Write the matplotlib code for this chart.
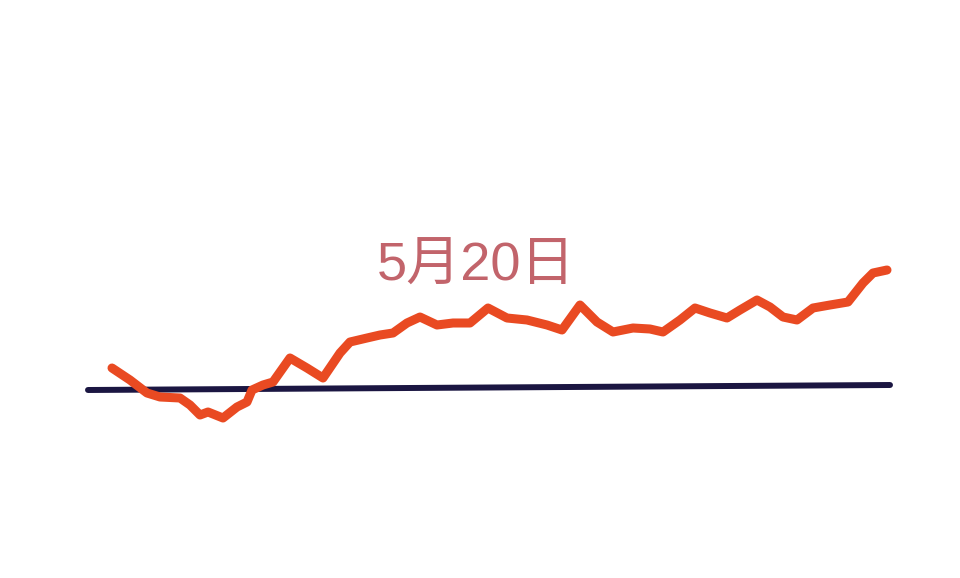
import matplotlib.pyplot as plt

plt.rcParams['font.family'] = ['Liberation Sans', 'Noto Sans CJK SC', 'DejaVu Sans']

# orange series (x position, level)
trend_x = [112, 130, 147, 160, 180, 190, 200, 208, 223, 237, 247, 252, 263, 273,
           290, 307, 323, 340, 350, 367, 380, 393, 407, 420, 437, 453, 470, 488,
           507, 527, 547, 562, 580, 597, 613, 633, 650, 663, 680, 695, 710, 727,
           740, 757, 770, 783, 797, 813, 830, 848, 863, 873, 887]
trend_y = [210, 198, 185, 181, 180, 173, 163, 166, 160, 171, 176, 188, 193, 196,
           220, 210, 200, 225, 236, 240, 243, 245, 255, 261, 253, 255, 255, 270,
           260, 258, 253, 248, 273, 256, 246, 250, 249, 246, 258, 270, 265, 260,
           268, 278, 271, 261, 258, 270, 273, 276, 295, 305, 308]

# navy baseline
base_x = [88, 890]
base_y = [188, 193]

label = "5月20日"

fig = plt.figure(figsize=(9.6, 5.78), dpi=100)
ax = fig.add_axes([0, 0, 1, 1])
ax.set_xlim(0, 960)
ax.set_ylim(0, 578)
ax.axis('off')

ax.plot(base_x, base_y, color='#1b1642', linewidth=4.3, solid_capstyle='round')
ax.plot(trend_x, trend_y, color='#e94a22', linewidth=6.5,
        solid_capstyle='round', solid_joinstyle='round')

ax.text(476, 311, label, color='#c2646b', fontsize=39, ha='center', va='center')

fig.savefig('out.png', dpi=100)
